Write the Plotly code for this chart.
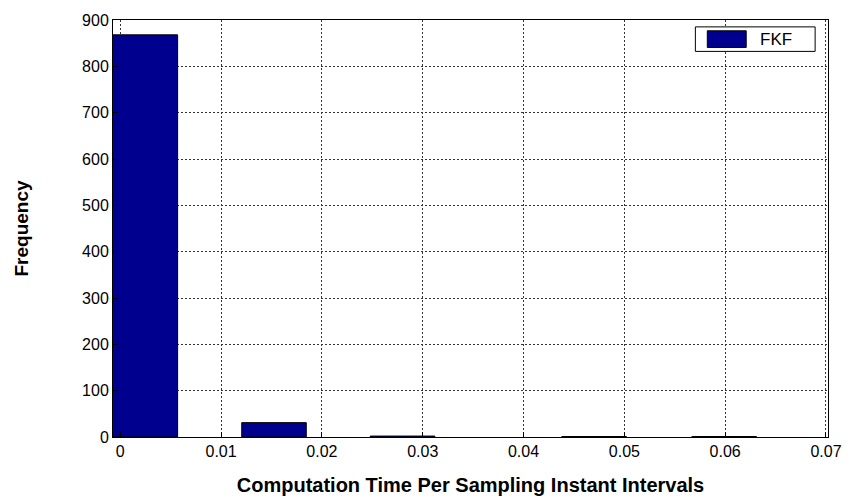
import plotly.graph_objects as go

# Data
bin_centers = [0.00249, 0.01525, 0.0280, 0.0470, 0.0599]
counts = [868, 31, 2, 1, 1]
bin_width = 0.0064
x_ticks = [0, 0.01, 0.02, 0.03, 0.04, 0.05, 0.06, 0.07]
x_tick_labels = ["0", "0.01", "0.02", "0.03", "0.04", "0.05", "0.06", "0.07"]
y_ticks = [0, 100, 200, 300, 400, 500, 600, 700, 800, 900]
series_name = "FKF"

bar_color = "#00008F"
font_family = "Liberation Sans, Arial, sans-serif"

fig = go.Figure()
fig.add_trace(go.Bar(
    x=bin_centers, y=counts, width=[bin_width] * len(counts),
    name=series_name, marker=dict(color=bar_color, line=dict(color="black", width=1)),
    showlegend=False,
))

fig.update_layout(
    width=854, height=504,
    margin=dict(l=113, r=24, t=12, b=67),
    paper_bgcolor="white", plot_bgcolor="white",
    font=dict(family=font_family, size=16, color="black"),
    xaxis=dict(
        range=[-0.00072, 0.0702], tickvals=x_ticks, ticktext=x_tick_labels,
        showgrid=True, gridcolor="#333333", griddash="2px,2px", gridwidth=1,
        showline=True, linecolor="black", linewidth=1, mirror=True,
        ticks="inside", ticklen=5, tickcolor="black", zeroline=False,
        title=dict(text="<b>Computation Time Per Sampling Instant Intervals</b>",
                   font=dict(size=20), standoff=18),
        tickfont=dict(size=16),
    ),
    yaxis=dict(
        range=[0, 900], tickvals=y_ticks,
        showgrid=True, gridcolor="#333333", griddash="2px,2px", gridwidth=1,
        showline=True, linecolor="black", linewidth=1, mirror=True,
        ticks="inside", ticklen=5, tickcolor="black", zeroline=False,
        title=dict(text="<b>Frequency</b>", font=dict(size=19), standoff=48),
        tickfont=dict(size=16),
    ),
)

# Legend drawn as shapes (box + swatch) and text
fig.add_shape(type="rect", xref="paper", yref="paper", x0=0.8145, x1=0.982, y0=0.9247, y1=0.9835,
              line=dict(color="black", width=1), fillcolor="white", layer="above")
fig.add_shape(type="rect", xref="paper", yref="paper", x0=0.8312, x1=0.8856, y0=0.9341, y1=0.9741,
              line=dict(color="black", width=1), fillcolor=bar_color, layer="above")
fig.add_annotation(xref="paper", yref="paper", x=0.902, y=0.954, xanchor="left", yanchor="middle",
                   text=series_name, showarrow=False, font=dict(size=17))

fig.write_html("out.html")
